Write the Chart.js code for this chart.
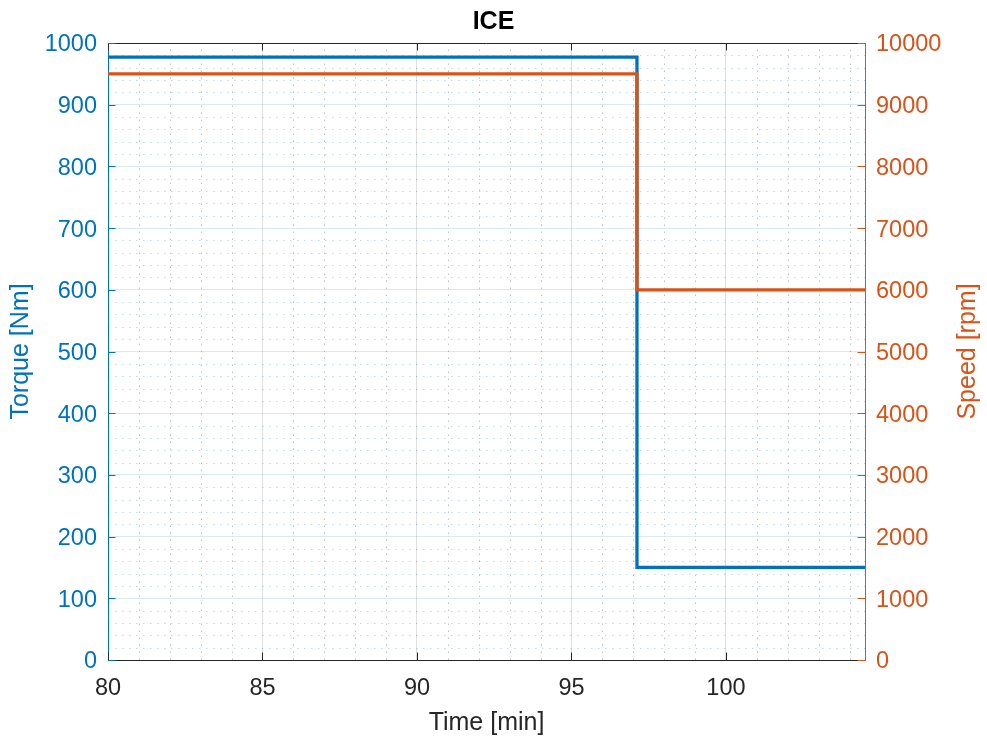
<!DOCTYPE html>
<html>
<head>
<meta charset="utf-8">
<title>ICE</title>
<script src="https://cdn.jsdelivr.net/npm/chart.js@4.4.1/dist/chart.umd.min.js"></script>
<style>
  html, body { margin: 0; padding: 0; background: #ffffff; }
  #wrap { width: 987px; height: 738px; }
  canvas { display: block; }
</style>
</head>
<body>
<div id="wrap"><canvas id="chart" width="987" height="738"></canvas></div>
<script>
// Engine operating point over time (step change at ~97.1 min)
const timeMin  = [80, 97.12, 97.12, 104.5];
const torqueNm = [977, 977, 150, 150];
const speedRpm = [9500, 9500, 6000, 6000];

// Axis tick values
const timeTicks   = [80, 85, 90, 95, 100];
const torqueTicks = [0, 100, 200, 300, 400, 500, 600, 700, 800, 900, 1000];
const speedTicks  = [0, 1000, 2000, 3000, 4000, 5000, 6000, 7000, 8000, 9000, 10000];

// Minor grid spacing
const timeMinorStep = 1;
const torqueMinorStep = 20;

const FONT = '"Liberation Sans", Arial, Helvetica, sans-serif';
const BLUE = '#0072BD';
const ORANGE = '#D95319';
const AXIS = '#262626';
const TICK_LEN = 7.5;

// Dotted minor grid, top edge of the box and inward tick marks
const axesFrame = {
  id: 'axesFrame',
  beforeDatasetsDraw(chart) {
    const { ctx, chartArea: a, scales } = chart;
    const x = scales.x, yT = scales.yT, yS = scales.yS;
    ctx.save();
    ctx.lineWidth = 1;

    ctx.setLineDash([1.5, 5.5]);
    ctx.strokeStyle = 'rgba(38,38,38,0.28)';
    for (let t = Math.ceil(x.min); t <= x.max; t += timeMinorStep) {
      if (timeTicks.includes(t)) continue;
      const px = Math.round(x.getPixelForValue(t)) + 0.5;
      ctx.beginPath(); ctx.moveTo(px, a.bottom); ctx.lineTo(px, a.top); ctx.stroke();
    }
    ctx.strokeStyle = 'rgba(0,114,189,0.25)';
    for (let v = yT.min; v <= yT.max; v += torqueMinorStep) {
      if (torqueTicks.includes(v)) continue;
      const py = Math.round(yT.getPixelForValue(v)) + 0.5;
      ctx.beginPath(); ctx.moveTo(a.left, py); ctx.lineTo(a.right, py); ctx.stroke();
    }
    ctx.setLineDash([]);

    // top edge
    ctx.strokeStyle = AXIS;
    const top = Math.round(a.top) + 0.5;
    ctx.beginPath(); ctx.moveTo(a.left, top); ctx.lineTo(a.right, top); ctx.stroke();

    // time ticks, bottom and top
    for (const t of timeTicks) {
      const px = Math.round(x.getPixelForValue(t)) + 0.5;
      ctx.beginPath();
      ctx.moveTo(px, a.bottom); ctx.lineTo(px, a.bottom - TICK_LEN);
      ctx.moveTo(px, a.top); ctx.lineTo(px, a.top + TICK_LEN);
      ctx.stroke();
    }
    // torque ticks, left
    ctx.strokeStyle = BLUE;
    for (const v of torqueTicks) {
      const py = Math.round(yT.getPixelForValue(v)) + 0.5;
      ctx.beginPath(); ctx.moveTo(a.left, py); ctx.lineTo(a.left + TICK_LEN, py); ctx.stroke();
    }
    // speed ticks, right
    ctx.strokeStyle = ORANGE;
    for (const v of speedTicks) {
      const py = Math.round(yS.getPixelForValue(v)) + 0.5;
      ctx.beginPath(); ctx.moveTo(a.right, py); ctx.lineTo(a.right - TICK_LEN, py); ctx.stroke();
    }
    ctx.restore();
  },
  afterDraw(chart) {
    // right-hand axis title, reading bottom to top
    const { ctx, chartArea: a } = chart;
    ctx.save();
    ctx.translate(968, (a.top + a.bottom) / 2);
    ctx.rotate(-Math.PI / 2);
    ctx.font = '25px ' + FONT;
    ctx.fillStyle = ORANGE;
    ctx.textAlign = 'center';
    ctx.textBaseline = 'middle';
    ctx.fillText('Speed [rpm]', 0, 0);
    ctx.restore();
  }
};

const toPoints = (xs, ys) => xs.map((t, i) => ({ x: t, y: ys[i] }));
const hideEdge = (edge, color) => (c) => (c.tick && c.tick.value === edge ? 'rgba(0,0,0,0)' : color);
const plain = (v) => String(v);

new Chart(document.getElementById('chart'), {
  type: 'line',
  data: {
    datasets: [
      {
        label: 'Speed',
        data: toPoints(timeMin, speedRpm),
        yAxisID: 'yS',
        borderColor: ORANGE,
        borderWidth: 3.3,
        pointRadius: 0,
        tension: 0,
        borderJoinStyle: 'miter',
        borderCapStyle: 'butt',
        order: 0
      },
      {
        label: 'Torque',
        data: toPoints(timeMin, torqueNm),
        yAxisID: 'yT',
        borderColor: BLUE,
        borderWidth: 3.3,
        pointRadius: 0,
        tension: 0,
        borderJoinStyle: 'miter',
        borderCapStyle: 'butt',
        order: 1
      }
    ]
  },
  options: {
    responsive: false,
    animation: false,
    devicePixelRatio: 1,
    layout: { padding: 0 },
    events: [],
    plugins: {
      legend: { display: false },
      tooltip: { enabled: false },
      title: {
        display: true,
        text: 'ICE',
        color: '#000000',
        font: { family: FONT, size: 25, weight: 'bold' },
        padding: { top: 7, bottom: 6 }
      }
    },
    scales: {
      x: {
        type: 'linear',
        position: 'bottom',
        min: 80,
        max: 104.5,
        afterBuildTicks: (s) => { s.ticks = timeTicks.map(v => ({ value: v })); },
        afterFit: (s) => { s.height = 78; },
        grid: { color: hideEdge(80, 'rgba(38,38,38,0.15)'), lineWidth: 1, drawTicks: false },
        border: { color: AXIS, width: 1 },
        ticks: { color: AXIS, padding: 14, maxRotation: 0, autoSkip: false, callback: plain, font: { family: FONT, size: 23.5 } },
        title: { display: true, text: 'Time [min]', color: AXIS, padding: 0, font: { family: FONT, size: 25 } }
      },
      yT: {
        type: 'linear',
        position: 'left',
        min: 0,
        max: 1000,
        afterBuildTicks: (s) => { s.ticks = torqueTicks.map(v => ({ value: v })); },
        afterFit: (s) => { s.width = 108; },
        grid: { color: hideEdge(0, 'rgba(0,114,189,0.15)'), lineWidth: 1, drawTicks: false },
        border: { color: BLUE, width: 1 },
        ticks: { color: BLUE, padding: 11, labelOffset: 2, callback: plain, font: { family: FONT, size: 23.5 } },
        title: { display: true, text: 'Torque [Nm]', color: BLUE, padding: { top: 6, bottom: 0 }, font: { family: FONT, size: 25 } }
      },
      yS: {
        type: 'linear',
        position: 'right',
        min: 0,
        max: 10000,
        afterBuildTicks: (s) => { s.ticks = speedTicks.map(v => ({ value: v })); },
        afterFit: (s) => { s.width = 122; },
        grid: { drawOnChartArea: false, drawTicks: false },
        border: { color: ORANGE, width: 1 },
        ticks: { color: ORANGE, padding: 11, labelOffset: 2, callback: plain, font: { family: FONT, size: 23.5 } }
      }
    }
  },
  plugins: [axesFrame]
});
</script>
</body>
</html>
